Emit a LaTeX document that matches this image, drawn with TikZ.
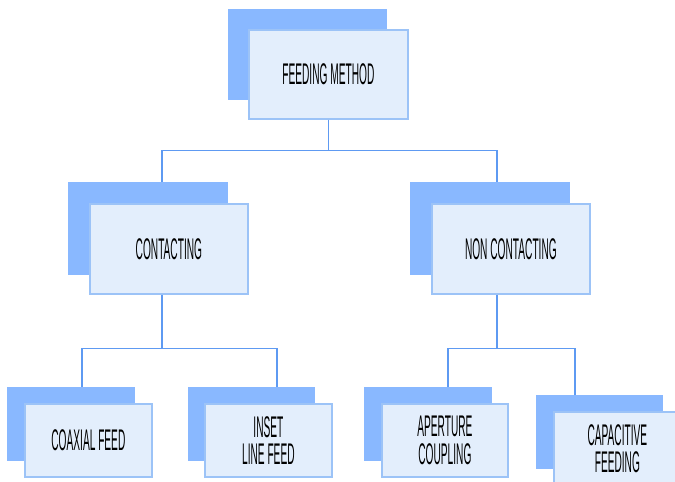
\documentclass[tikz,border=0pt]{standalone}
\usepackage{fontspec}
\newfontfamily\narrowsans[FakeStretch=0.34]{Liberation Sans}
\definecolor{shadowblue}{HTML}{89B8FF}
\definecolor{paleblue}{HTML}{E3EEFC}
\definecolor{edgeblue}{HTML}{9CC3F7}
\definecolor{linkblue}{HTML}{5E9AF2}

\begin{document}
\begin{tikzpicture}[
    x=0.02cm, y=-0.02cm,
    back/.style={fill=shadowblue, draw=none, anchor=north west, inner sep=0pt},
    front/.style={fill=paleblue, draw=edgeblue, line width=1pt, anchor=north west,
        inner sep=0pt, align=center, text=black,
        font=\narrowsans\fontsize{17}{15.4}\selectfont},
    link/.style={draw=linkblue, line width=0.8pt},
    every node/.style={color=black}
    ]
    \useasboundingbox (0,0) rectangle (675,481);
    \clip (0,0) rectangle (675,481);
    % top box
    \node[back, minimum width=159*0.02cm, minimum height=91*0.02cm] (fmback) at (228,9) {};
    \node[front, minimum width=159*0.02cm, minimum height=89*0.02cm] (fm) at (248,29)
        {FEEDING METHOD};
    % second level
    \node[back, minimum width=160*0.02cm, minimum height=93*0.02cm] (ctback) at (68,182) {};
    \node[front, minimum width=158*0.02cm, minimum height=90*0.02cm] (ct) at (89,203)
        {CONTACTING};
    \node[back, minimum width=160*0.02cm, minimum height=93*0.02cm] (ncback) at (410,182) {};
    \node[front, minimum width=158*0.02cm, minimum height=90*0.02cm] (nc) at (431,203)
        {NON CONTACTING};
    % third level
    \node[back, minimum width=128*0.02cm, minimum height=74*0.02cm] (cxback) at (7,387) {};
    \node[front, minimum width=127*0.02cm, minimum height=73*0.02cm] (cx) at (24,403)
        {COAXIAL FEED};
    \node[back, minimum width=127*0.02cm, minimum height=74*0.02cm] (inback) at (188,387) {};
    \node[front, minimum width=127*0.02cm, minimum height=73*0.02cm] (in) at (204,403)
        {INSET\\LINE FEED};
    \node[back, minimum width=128*0.02cm, minimum height=74*0.02cm] (apback) at (364,387) {};
    \node[front, minimum width=126*0.02cm, minimum height=73*0.02cm] (ap) at (381,403)
        {APERTURE\\COUPLING};
    \node[back, minimum width=127*0.02cm, minimum height=74*0.02cm] (cpback) at (536,395) {};
    \node[front, minimum width=127*0.02cm, minimum height=73*0.02cm] (cp) at (553,411)
        {CAPACITIVE\\FEEDING};
    % where the links meet the boxes
    \coordinate (ctin) at (162,182);
    \coordinate (ncin) at (497,182);
    \coordinate (cxin) at (82,387);
    \coordinate (inin) at (277,387);
    \coordinate (apin) at (448,387);
    \coordinate (cpin) at (575,395);
    % links
    \draw[link] (fm.south) -- ++(0,31) -| (ctin);
    \draw[link] (fm.south) -- ++(0,31) -| (ncin);
    \draw[link] (ctin |- ct.south) -- ++(0,54) -| (cxin);
    \draw[link] (ctin |- ct.south) -- ++(0,54) -| (inin);
    \draw[link] (ncin |- nc.south) -- ++(0,54) -| (apin);
    \draw[link] (ncin |- nc.south) -- ++(0,54) -| (cpin);
\end{tikzpicture}
\end{document}
